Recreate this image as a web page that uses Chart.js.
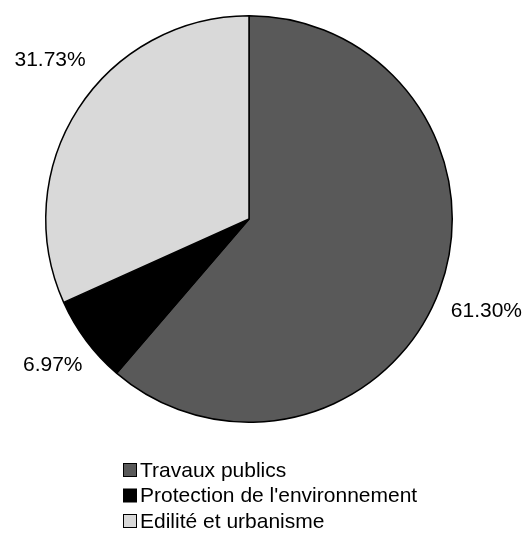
<!DOCTYPE html>
<html>
<head>
<meta charset="utf-8">
<script src="https://cdn.jsdelivr.net/npm/chart.js@4"></script>
<style>
  html, body { margin: 0; padding: 0; background: #fff; }
  #wrap { width: 527px; height: 535px; position: relative; }
</style>
</head>
<body>
<div id="wrap"><canvas id="pie"></canvas></div>
<script>
// Budget split by sector (%)
const categories = ['Travaux publics', "Protection de l'environnement", 'Edilité et urbanisme'];
const shares = [61.30, 6.97, 31.73];
const sliceColors = ['#595959', '#000000', '#d9d9d9'];

// small manual tweaks to where each percentage sits (px)
const labelNudge = [[3, 5], [4, -3], [11, -23]];

const FONT = '21px "Liberation Sans", Arial, sans-serif';

// percentage labels placed outside each slice, along its middle angle
const outsideLabels = {
  id: 'outsideLabels',
  afterDatasetsDraw(chart) {
    const { ctx } = chart;
    const meta = chart.getDatasetMeta(0);
    ctx.save();
    ctx.font = FONT;
    ctx.fillStyle = '#000';
    ctx.textAlign = 'center';
    ctx.textBaseline = 'middle';
    meta.data.forEach((arc, i) => {
      const mid = (arc.startAngle + arc.endAngle) / 2;
      const r = arc.outerRadius * 1.23;
      const x = arc.x + Math.cos(mid) * r + labelNudge[i][0];
      const y = arc.y + Math.sin(mid) * r + labelNudge[i][1];
      ctx.fillText(shares[i].toFixed(2) + '%', x, y);
    });
    ctx.restore();
  }
};

// legend stacked below the pie, square swatches with a thin outline
const boxLegend = {
  id: 'boxLegend',
  afterDraw(chart) {
    const { ctx } = chart;
    ctx.save();
    ctx.font = FONT;
    ctx.textBaseline = 'middle';
    ctx.textAlign = 'left';
    categories.forEach((name, i) => {
      const y = 470 + i * 25.5;
      ctx.fillStyle = sliceColors[i];
      ctx.fillRect(123.5, y - 6.5, 13, 13);
      ctx.strokeStyle = '#000';
      ctx.lineWidth = 1;
      ctx.strokeRect(123.5, y - 6.5, 13, 13);
      ctx.fillStyle = '#000';
      ctx.fillText(name, 140, y + 1);
    });
    ctx.restore();
  }
};

new Chart(document.getElementById('pie'), {
  type: 'pie',
  data: {
    labels: categories,
    datasets: [{
      data: shares,
      backgroundColor: sliceColors,
      borderColor: '#000',
      borderWidth: 1.5
    }]
  },
  options: {
    responsive: true,
    maintainAspectRatio: false,
    animation: false,
    layout: { padding: { left: 45, right: 74, top: 14, bottom: 111 } },
    plugins: {
      legend: { display: false },
      tooltip: { enabled: false }
    }
  },
  plugins: [outsideLabels, boxLegend]
});
</script>
</body>
</html>
